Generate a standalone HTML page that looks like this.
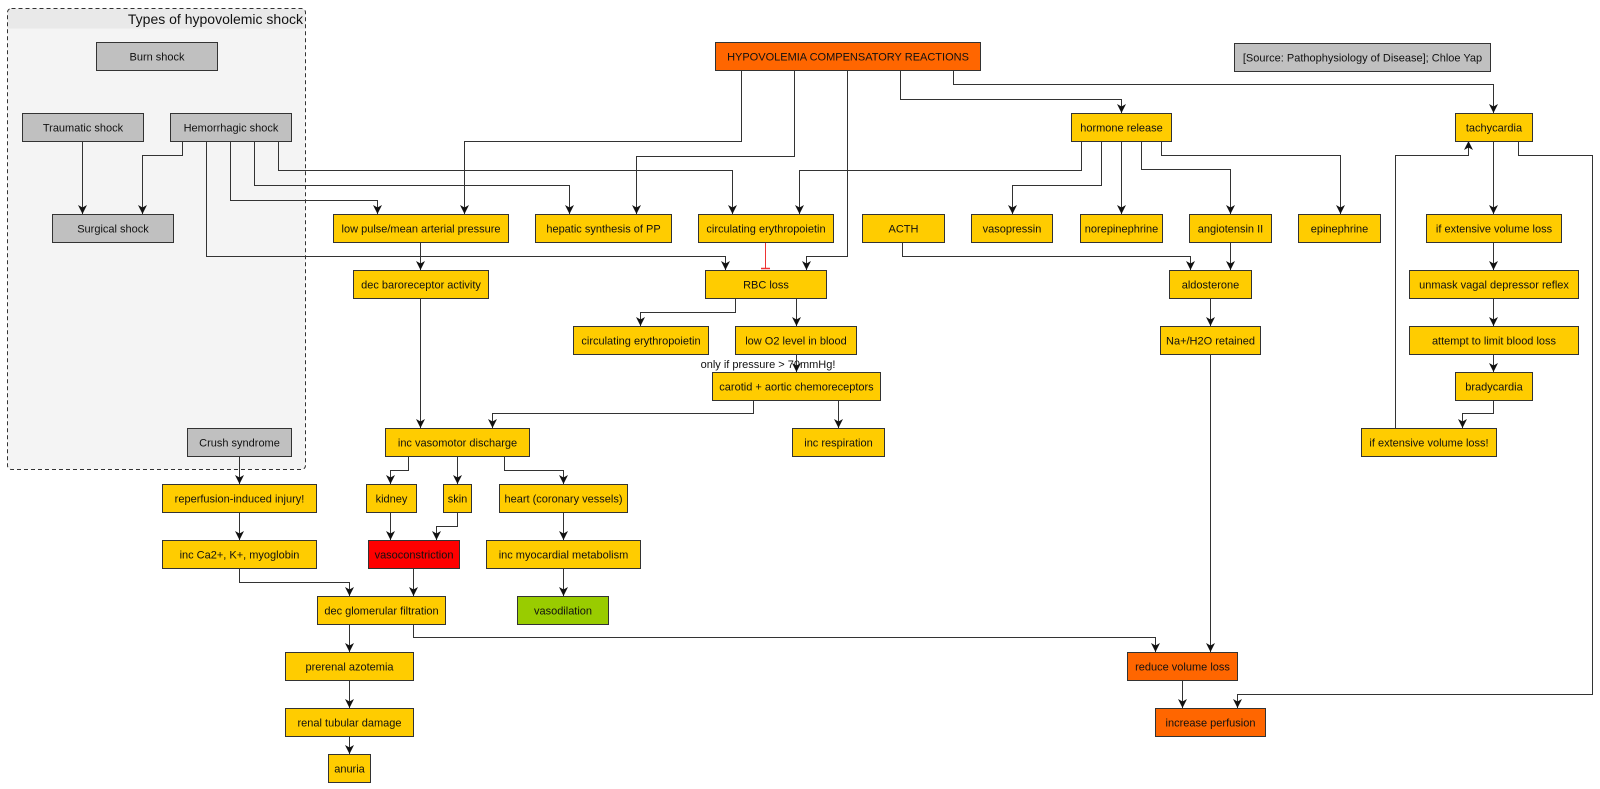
<!DOCTYPE html>
<html><head><meta charset="utf-8"><style>
html,body{margin:0;padding:0;background:#fff;}
svg{display:block;}
text{font-family:"Liberation Sans",Arial,sans-serif;font-size:11px;fill:#111;}
.n{stroke:#333;stroke-width:1;}
.y{fill:#ffcc00;}
.g{fill:#c0c0c0;}
.o{fill:#ff6600;}
.r{fill:#ff0000;}
.gr{fill:#99cc00;}
.e{fill:none;stroke:#333;stroke-width:1;marker-end:url(#a);}
</style></head><body>
<svg width="1600" height="789" viewBox="0 0 1600 789" xmlns="http://www.w3.org/2000/svg">
<defs>
<marker id="a" markerUnits="userSpaceOnUse" markerWidth="12" markerHeight="12" viewBox="-10 -6 12 12" refX="0" refY="0" orient="auto">
<path d="M0,0 L-9,-4.5 L-6.5,0 L-9,4.5 Z" fill="#111"/>
</marker>
<clipPath id="gc"><rect x="7.5" y="8.5" width="298" height="461" rx="4"/></clipPath>
</defs>
<rect width="1600" height="789" fill="#fff"/>

<!-- group -->
<rect x="7.5" y="8.5" width="298" height="461" rx="4" fill="#f4f4f4"/>
<rect x="7.5" y="8.5" width="298" height="20" fill="#e9e9e9" clip-path="url(#gc)"/>
<rect x="7.5" y="8.5" width="298" height="461" rx="4" fill="none" stroke="#333" stroke-dasharray="4,3"/>
<text x="303" y="24" text-anchor="end" style="font-size:14px">Types of hypovolemic shock</text>

<!-- edge label -->
<text x="768" y="364" text-anchor="middle" dy=".35em">only if pressure &gt; 70mmHg!</text>

<!-- edges -->
<polyline class="e" points="82.5,141 82.5,214"/>
<polyline class="e" points="182.5,141 182.5,155.5 142.5,155.5 142.5,214"/>
<polyline class="e" points="206.5,141 206.5,256.5 725.5,256.5 725.5,270"/>
<polyline class="e" points="230.5,141 230.5,200.5 377.5,200.5 377.5,214"/>
<polyline class="e" points="254.5,141 254.5,185.5 569.5,185.5 569.5,214"/>
<polyline class="e" points="278.5,141 278.5,170.5 732.5,170.5 732.5,214"/>
<polyline class="e" points="741.5,70 741.5,141.5 464.5,141.5 464.5,214"/>
<polyline class="e" points="794.5,70 794.5,156.5 636.5,156.5 636.5,214"/>
<polyline class="e" points="847.5,70 847.5,256.5 806.5,256.5 806.5,270"/>
<polyline class="e" points="900.5,70 900.5,99.5 1121.5,99.5 1121.5,113"/>
<polyline class="e" points="953.5,70 953.5,84.5 1493.5,84.5 1493.5,113"/>
<polyline class="e" points="1081.5,141 1081.5,170.5 799.5,170.5 799.5,214"/>
<polyline class="e" points="1101.5,141 1101.5,185.5 1012.5,185.5 1012.5,214"/>
<polyline class="e" points="1121.5,141 1121.5,214"/>
<polyline class="e" points="1141.5,141 1141.5,169.5 1230.5,169.5 1230.5,214"/>
<polyline class="e" points="1161.5,141 1161.5,155.5 1340.5,155.5 1340.5,214"/>
<polyline class="e" points="902.5,242 902.5,256.5 1190.5,256.5 1190.5,270"/>
<polyline class="e" points="1230.5,242 1230.5,270"/>
<polyline class="e" points="1210.5,298 1210.5,326"/>
<polyline class="e" points="1210.5,354 1210.5,652"/>
<polyline class="e" points="1493.5,141 1493.5,214"/>
<polyline class="e" points="1518.5,141 1518.5,155.5 1592.5,155.5 1592.5,694.5 1237.5,694.5 1237.5,708"/>
<polyline class="e" points="1493.5,242 1493.5,270"/>
<polyline class="e" points="1493.5,298 1493.5,326"/>
<polyline class="e" points="1493.5,354 1493.5,372"/>
<polyline class="e" points="1493.5,400 1493.5,413.5 1462.5,413.5 1462.5,428"/>
<polyline class="e" points="1395.5,428 1395.5,155.5 1468.5,155.5 1468.5,141"/>
<polyline class="e" points="1182.5,680 1182.5,708"/>
<polyline class="e" points="413.5,624 413.5,637.5 1155.5,637.5 1155.5,652"/>
<polyline class="e" points="420.5,242 420.5,270"/>
<polyline class="e" points="420.5,298 420.5,428"/>
<polyline class="e" points="735.5,298 735.5,312.5 640.5,312.5 640.5,326"/>
<polyline class="e" points="796.5,298 796.5,326"/>
<polyline class="e" points="796.5,354 796.5,372"/>
<polyline class="e" points="753.5,400 753.5,413.5 492.5,413.5 492.5,428"/>
<polyline class="e" points="838.5,400 838.5,428"/>
<polyline class="e" points="408.5,456 408.5,470.5 390.5,470.5 390.5,484"/>
<polyline class="e" points="457.5,456 457.5,484"/>
<polyline class="e" points="504.5,456 504.5,470.5 563.5,470.5 563.5,484"/>
<polyline class="e" points="390.5,512 390.5,540"/>
<polyline class="e" points="457.5,512 457.5,526.5 436.5,526.5 436.5,540"/>
<polyline class="e" points="563.5,512 563.5,540"/>
<polyline class="e" points="563.5,568 563.5,596"/>
<polyline class="e" points="413.5,568 413.5,596"/>
<polyline class="e" points="239.5,456 239.5,484"/>
<polyline class="e" points="239.5,512 239.5,540"/>
<polyline class="e" points="239.5,568 239.5,582.5 349.5,582.5 349.5,596"/>
<polyline class="e" points="349.5,624 349.5,652"/>
<polyline class="e" points="349.5,680 349.5,708"/>
<polyline class="e" points="349.5,736 349.5,754"/>
<!-- inhibit -->
<line x1="765.5" y1="242" x2="765.5" y2="268" stroke="#ee3333" stroke-width="1"/>
<line x1="761" y1="268.5" x2="770" y2="268.5" stroke="#ee3333" stroke-width="1.5"/>

<!-- nodes -->
<g>
<rect class="n g" x="96.5" y="42.5" width="121" height="28"/><text x="157" y="56.5" text-anchor="middle" dy=".35em">Burn shock</text>
<rect class="n g" x="22.5" y="113.5" width="121" height="28"/><text x="83" y="127.5" text-anchor="middle" dy=".35em">Traumatic shock</text>
<rect class="n g" x="170.5" y="113.5" width="121" height="28"/><text x="231" y="127.5" text-anchor="middle" dy=".35em">Hemorrhagic shock</text>
<rect class="n g" x="52.5" y="214.5" width="121" height="28"/><text x="113" y="228.5" text-anchor="middle" dy=".35em">Surgical shock</text>
<rect class="n g" x="187.5" y="428.5" width="104" height="28"/><text x="239.5" y="442.5" text-anchor="middle" dy=".35em">Crush syndrome</text>
<rect class="n g" x="1234.5" y="43.5" width="256" height="28"/><text x="1362.5" y="57.5" text-anchor="middle" dy=".35em">[Source: Pathophysiology of Disease]; Chloe Yap</text>

<rect class="n o" x="715.5" y="42.5" width="265" height="28"/><text x="848" y="56.5" text-anchor="middle" dy=".35em">HYPOVOLEMIA COMPENSATORY REACTIONS</text>
<rect class="n o" x="1127.5" y="652.5" width="110" height="28"/><text x="1182.5" y="666.5" text-anchor="middle" dy=".35em">reduce volume loss</text>
<rect class="n o" x="1155.5" y="708.5" width="110" height="28"/><text x="1210.5" y="722.5" text-anchor="middle" dy=".35em">increase perfusion</text>

<rect class="n y" x="333.5" y="214.5" width="175" height="28"/><text x="421" y="228.5" text-anchor="middle" dy=".35em">low pulse/mean arterial pressure</text>
<rect class="n y" x="535.5" y="214.5" width="136" height="28"/><text x="603.5" y="228.5" text-anchor="middle" dy=".35em">hepatic synthesis of PP</text>
<rect class="n y" x="698.5" y="214.5" width="135" height="28"/><text x="766" y="228.5" text-anchor="middle" dy=".35em">circulating erythropoietin</text>
<rect class="n y" x="862.5" y="214.5" width="82" height="28"/><text x="903.5" y="228.5" text-anchor="middle" dy=".35em">ACTH</text>
<rect class="n y" x="971.5" y="214.5" width="81" height="28"/><text x="1012" y="228.5" text-anchor="middle" dy=".35em">vasopressin</text>
<rect class="n y" x="1080.5" y="214.5" width="82" height="28"/><text x="1121.5" y="228.5" text-anchor="middle" dy=".35em">norepinephrine</text>
<rect class="n y" x="1189.5" y="214.5" width="82" height="28"/><text x="1230.5" y="228.5" text-anchor="middle" dy=".35em">angiotensin II</text>
<rect class="n y" x="1298.5" y="214.5" width="82" height="28"/><text x="1339.5" y="228.5" text-anchor="middle" dy=".35em">epinephrine</text>
<rect class="n y" x="1426.5" y="214.5" width="135" height="28"/><text x="1494" y="228.5" text-anchor="middle" dy=".35em">if extensive volume loss</text>
<rect class="n y" x="1071.5" y="113.5" width="100" height="28"/><text x="1121.5" y="127.5" text-anchor="middle" dy=".35em">hormone release</text>
<rect class="n y" x="1455.5" y="113.5" width="77" height="28"/><text x="1494" y="127.5" text-anchor="middle" dy=".35em">tachycardia</text>
<rect class="n y" x="353.5" y="270.5" width="135" height="28"/><text x="421" y="284.5" text-anchor="middle" dy=".35em">dec baroreceptor activity</text>
<rect class="n y" x="705.5" y="270.5" width="121" height="28"/><text x="766" y="284.5" text-anchor="middle" dy=".35em">RBC loss</text>
<rect class="n y" x="1169.5" y="270.5" width="82" height="28"/><text x="1210.5" y="284.5" text-anchor="middle" dy=".35em">aldosterone</text>
<rect class="n y" x="1409.5" y="270.5" width="169" height="28"/><text x="1494" y="284.5" text-anchor="middle" dy=".35em">unmask vagal depressor reflex</text>
<rect class="n y" x="573.5" y="326.5" width="135" height="28"/><text x="641" y="340.5" text-anchor="middle" dy=".35em">circulating erythropoietin</text>
<rect class="n y" x="735.5" y="326.5" width="121" height="28"/><text x="796" y="340.5" text-anchor="middle" dy=".35em">low O2 level in blood</text>
<rect class="n y" x="1160.5" y="326.5" width="100" height="28"/><text x="1210.5" y="340.5" text-anchor="middle" dy=".35em">Na+/H2O retained</text>
<rect class="n y" x="1409.5" y="326.5" width="169" height="28"/><text x="1494" y="340.5" text-anchor="middle" dy=".35em">attempt to limit blood loss</text>
<rect class="n y" x="712.5" y="372.5" width="168" height="28"/><text x="796.5" y="386.5" text-anchor="middle" dy=".35em">carotid + aortic chemoreceptors</text>
<rect class="n y" x="1455.5" y="372.5" width="77" height="28"/><text x="1494" y="386.5" text-anchor="middle" dy=".35em">bradycardia</text>
<rect class="n y" x="385.5" y="428.5" width="144" height="28"/><text x="457.5" y="442.5" text-anchor="middle" dy=".35em">inc vasomotor discharge</text>
<rect class="n y" x="792.5" y="428.5" width="92" height="28"/><text x="838.5" y="442.5" text-anchor="middle" dy=".35em">inc respiration</text>
<rect class="n y" x="1361.5" y="428.5" width="135" height="28"/><text x="1429" y="442.5" text-anchor="middle" dy=".35em">if extensive volume loss!</text>
<rect class="n y" x="162.5" y="484.5" width="154" height="28"/><text x="239.5" y="498.5" text-anchor="middle" dy=".35em">reperfusion-induced injury!</text>
<rect class="n y" x="366.5" y="484.5" width="50" height="28"/><text x="391.5" y="498.5" text-anchor="middle" dy=".35em">kidney</text>
<rect class="n y" x="443.5" y="484.5" width="28" height="28"/><text x="457.5" y="498.5" text-anchor="middle" dy=".35em">skin</text>
<rect class="n y" x="499.5" y="484.5" width="128" height="28"/><text x="563.5" y="498.5" text-anchor="middle" dy=".35em">heart (coronary vessels)</text>
<rect class="n y" x="162.5" y="540.5" width="154" height="28"/><text x="239.5" y="554.5" text-anchor="middle" dy=".35em">inc Ca2+, K+, myoglobin</text>
<rect class="n r" x="368.5" y="540.5" width="91" height="28"/><text x="414" y="554.5" text-anchor="middle" dy=".35em">vasoconstriction</text>
<rect class="n y" x="486.5" y="540.5" width="154" height="28"/><text x="563.5" y="554.5" text-anchor="middle" dy=".35em">inc myocardial metabolism</text>
<rect class="n y" x="317.5" y="596.5" width="128" height="28"/><text x="381.5" y="610.5" text-anchor="middle" dy=".35em">dec glomerular filtration</text>
<rect class="n gr" x="517.5" y="596.5" width="91" height="28"/><text x="563" y="610.5" text-anchor="middle" dy=".35em">vasodilation</text>
<rect class="n y" x="285.5" y="652.5" width="128" height="28"/><text x="349.5" y="666.5" text-anchor="middle" dy=".35em">prerenal azotemia</text>
<rect class="n y" x="285.5" y="708.5" width="128" height="28"/><text x="349.5" y="722.5" text-anchor="middle" dy=".35em">renal tubular damage</text>
<rect class="n y" x="328.5" y="754.5" width="42" height="28"/><text x="349.5" y="768.5" text-anchor="middle" dy=".35em">anuria</text>
</g>
</svg>
</body></html>
